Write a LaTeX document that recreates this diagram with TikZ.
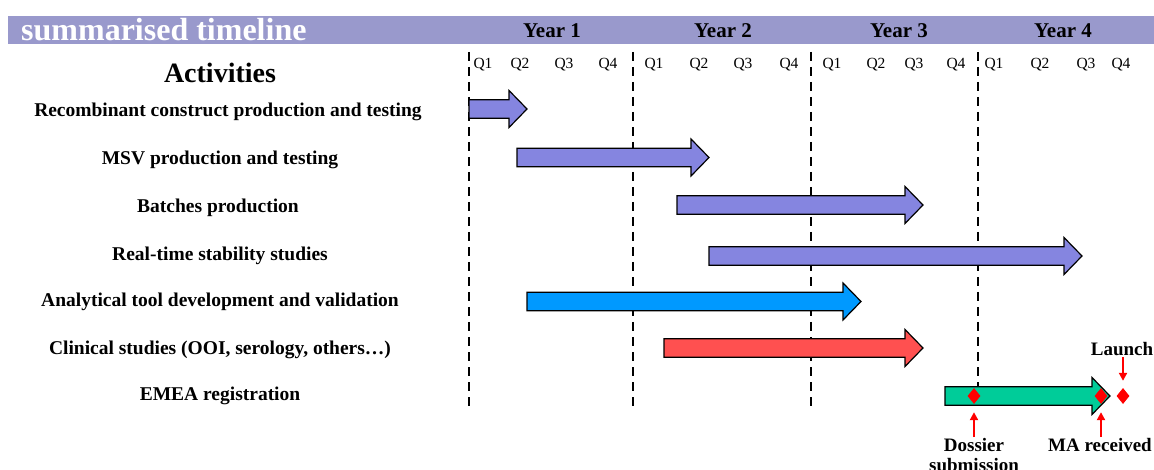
\documentclass[tikz,border=0pt]{standalone}
\usepackage{fontspec}
\setmainfont{Liberation Serif}
\usetikzlibrary{shapes.geometric,arrows.meta}

\definecolor{bannerlilac}{HTML}{9999CC}
\definecolor{barlilac}{HTML}{8585E0}
\definecolor{barblue}{HTML}{0099FF}
\definecolor{barred}{HTML}{FF5050}
\definecolor{bargreen}{HTML}{00CC99}

\newcommand{\shaft}{9.3}
\newcommand{\headw}{18.5}
\newcommand{\headl}{18}

% Bar: from, to, row, colour.
\newcommand{\actbar}[4]{%
  \draw[barline, fill=#4] (#1,#3-\shaft) -- (#2-\headl,#3-\shaft) -- (#2-\headl,#3-\headw)
    -- (#2,#3) -- (#2-\headl,#3+\headw) -- (#2-\headl,#3+\shaft) -- (#1,#3+\shaft) -- cycle;}

\tikzset{
  rowlabel/.style={font=\bfseries\fontsize{19.5}{22}\selectfont, inner sep=1pt},
  yearlabel/.style={font=\bfseries\fontsize{21}{24}\selectfont, inner sep=1pt},
  qlabel/.style={font=\fontsize{15.5}{18}\selectfont, inner sep=1pt},
  notelabel/.style={font=\bfseries\fontsize{19}{19}\selectfont, inner sep=1pt, align=center},
  yearline/.style={line width=2pt, dash pattern=on 9pt off 6pt},
  barline/.style={draw=black, line width=1.2pt, line join=miter},
  milestone/.style={diamond, fill=red, inner sep=0pt, minimum width=13pt, minimum height=16pt},
  pointer/.style={draw=red, line width=2pt, -{Triangle[length=8pt,width=8pt]}}
}

\begin{document}
\begin{tikzpicture}[x=1pt, y=-1pt]
    \useasboundingbox (0,0) rectangle (1154,470);

    % Banner.
    \fill[bannerlilac] (8,16) rectangle (1154,44);
    \node[anchor=west, text=white, font=\bfseries\fontsize{32}{32}\selectfont, inner sep=0pt]
      (title) at (21,30) {summarised timeline};
    \node[yearlabel] (y1) at (552,31) {Year 1};
    \node[yearlabel] (y2) at (723,31) {Year 2};
    \node[yearlabel] (y3) at (899,31) {Year 3};
    \node[yearlabel] (y4) at (1063,31) {Year 4};

    % Quarters.
    \node[font=\bfseries\fontsize{28}{30}\selectfont] (acts) at (220,73) {Activities};
    \foreach \qx/\qn [count=\i] in {483/Q1,520/Q2,564/Q3,608/Q4,654/Q1,699/Q2,743/Q3,789/Q4,
                                    832/Q1,876/Q2,914/Q3,956/Q4,994/Q1,1040/Q2,1086/Q3,1121/Q4}
      \node[qlabel] (q\i) at (\qx,65) {\qn};

    % Year boundaries.
    \foreach \lx in {469,633,811,978}
      \draw[yearline] (\lx,52) -- (\lx,409);

    % Activities.
    \node[rowlabel] (recomb)   at (228,112) {Recombinant construct production and testing};
    \node[rowlabel] (msv)      at (220,160) {MSV production and testing};
    \node[rowlabel] (batches)  at (218,208) {Batches production};
    \node[rowlabel] (stab)     at (220,256) {Real-time stability studies};
    \node[rowlabel] (analyt)   at (220,302) {Analytical tool development and validation};
    \node[rowlabel] (clinical) at (220,350) {Clinical studies (OOI, serology, others\ldots)};
    \node[rowlabel] (emea)     at (220,396) {EMEA registration};

    % Bars.
    \actbar{469}{527}{109}{barlilac}
    \actbar{517}{709}{157.5}{barlilac}
    \actbar{677}{923}{205}{barlilac}
    \actbar{709}{1082}{256}{barlilac}
    \actbar{527}{861}{301.5}{barblue}
    \actbar{664}{923}{348}{barred}
    \actbar{945}{1110}{396}{bargreen}

    % Milestones.
    \node[milestone] (dossd)  at (974,396) {};
    \node[milestone] (mad)    at (1101,396) {};
    \node[milestone] (launchd) at (1123,396) {};

    \node[notelabel, anchor=north] (dossier) at (974,437) {Dossier\\[1pt]submission};
    \node[notelabel, anchor=north] (marec)   at (1100,437) {MA received};
    \node[notelabel, anchor=south] (launch)  at (1122,357) {Launch};

    \draw[pointer, shorten >=8pt] (dossier.north) -- (dossd.south);
    \draw[pointer, shorten >=8pt] (marec.north -| mad) -- (mad.south);
    \draw[pointer, shorten >=7pt] (launch.south -| launchd) -- (launchd.north);
\end{tikzpicture}
\end{document}
